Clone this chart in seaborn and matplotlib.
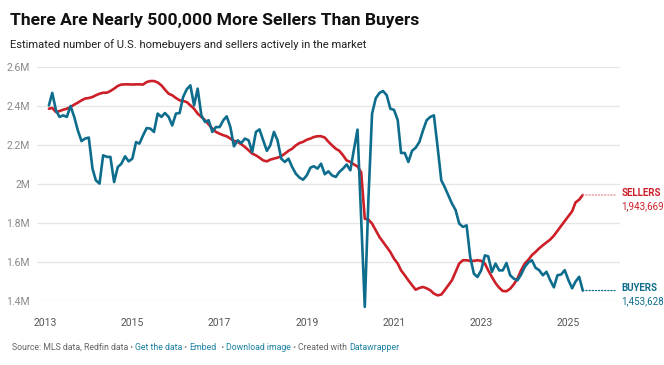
import matplotlib
matplotlib.use("Agg")
import matplotlib.pyplot as plt
import matplotlib.transforms as mtransforms
import numpy as np
import pandas as pd
import seaborn as sns

# ---------------- data (monthly, Feb 2013 - May 2025), millions ----------------
start_month = "2013-02-01"

buyers = [
    2.403, 2.467, 2.378, 2.344, 2.352, 2.344, 2.400, 2.344, 2.275, 2.220, 2.233,
    2.238, 2.079, 2.019, 2.002, 2.147, 2.139, 2.139, 2.010, 2.087, 2.104, 2.142,
    2.116, 2.130, 2.215, 2.207, 2.250, 2.287, 2.284, 2.267, 2.361, 2.344, 2.364,
    2.344, 2.300, 2.361, 2.364, 2.446, 2.486, 2.506, 2.403, 2.489, 2.352, 2.318,
    2.327, 2.267, 2.292, 2.292, 2.327, 2.347, 2.292, 2.193, 2.224, 2.210, 2.233,
    2.224, 2.164, 2.267, 2.280, 2.224, 2.170, 2.198, 2.267, 2.224, 2.130, 2.113,
    2.130, 2.087, 2.053, 2.033, 2.022, 2.044, 2.084, 2.091, 2.079, 2.104, 2.050,
    2.065, 2.044, 2.036, 2.062, 2.079, 2.100, 2.070, 2.180, 2.279, 1.820, 1.370,
    1.930, 2.360, 2.440, 2.467, 2.477, 2.455, 2.386, 2.380, 2.327, 2.159, 2.159,
    2.113, 2.170, 2.186, 2.215, 2.275, 2.327, 2.344, 2.352, 2.190, 2.019, 1.985,
    1.942, 1.900, 1.866, 1.797, 1.780, 1.788, 1.626, 1.540, 1.523, 1.557, 1.634,
    1.629, 1.549, 1.592, 1.557, 1.557, 1.595, 1.532, 1.515, 1.506, 1.535, 1.575,
    1.598, 1.609, 1.570, 1.558, 1.532, 1.550, 1.507, 1.470, 1.532, 1.536, 1.558,
    1.507, 1.465, 1.499, 1.524, 1.453628,
]

sellers = [
    2.386, 2.390, 2.369, 2.374, 2.381, 2.386, 2.395, 2.407, 2.417, 2.429, 2.438,
    2.441, 2.446, 2.455, 2.463, 2.468, 2.468, 2.477, 2.489, 2.503, 2.510, 2.511,
    2.511, 2.510, 2.511, 2.511, 2.510, 2.523, 2.528, 2.528, 2.521, 2.506, 2.484,
    2.463, 2.455, 2.441, 2.429, 2.426, 2.420, 2.403, 2.386, 2.361, 2.344, 2.327,
    2.306, 2.284, 2.267, 2.258, 2.250, 2.245, 2.233, 2.221, 2.216, 2.204, 2.190,
    2.173, 2.156, 2.147, 2.135, 2.121, 2.116, 2.125, 2.130, 2.135, 2.142, 2.156,
    2.170, 2.181, 2.198, 2.210, 2.216, 2.227, 2.233, 2.241, 2.245, 2.245, 2.238,
    2.217, 2.198, 2.181, 2.170, 2.147, 2.121, 2.113, 2.100, 2.090, 2.060, 1.822,
    1.817, 1.797, 1.763, 1.728, 1.703, 1.677, 1.651, 1.617, 1.592, 1.557, 1.532,
    1.506, 1.481, 1.458, 1.467, 1.472, 1.465, 1.455, 1.438, 1.429, 1.433, 1.455,
    1.481, 1.506, 1.549, 1.592, 1.609, 1.609, 1.606, 1.606, 1.609, 1.606, 1.592,
    1.557, 1.523, 1.492, 1.468, 1.451, 1.450, 1.463, 1.485, 1.515, 1.557, 1.592,
    1.612, 1.635, 1.652, 1.670, 1.686, 1.700, 1.715, 1.735, 1.760, 1.785, 1.810,
    1.835, 1.860, 1.905, 1.920, 1.943669,
]

y_ticks = [1.4, 1.6, 1.8, 2.0, 2.2, 2.4, 2.6]
y_tick_labels = ["1.4M", "1.6M", "1.8M", "2M", "2.2M", "2.4M", "2.6M"]
x_tick_years = [2013, 2015, 2017, 2019, 2021, 2023, 2025]

title = "There Are Nearly 500,000 More Sellers Than Buyers"
subtitle = "Estimated number of U.S. homebuyers and sellers actively in the market"
series_names = ["SELLERS", "BUYERS"]

RED = "#cc1f28"
BLUE = "#0e6d8c"
GRID = "#e6e6e6"
TICK = "#8a8a8a"

# ---------------- build frame ----------------
dates = pd.date_range(start_month, periods=len(buyers), freq="MS")
df = pd.DataFrame({
    "date": np.concatenate([dates, dates]),
    "value": np.concatenate([sellers, buyers]),
    "series": ["SELLERS"] * len(sellers) + ["BUYERS"] * len(buyers),
})

sns.set_theme(style="white")
plt.rcParams["font.family"] = ["Roboto", "DejaVu Sans"]

W, H = 664, 365
fig = plt.figure(figsize=(W / 100, H / 100), dpi=100)
ax_left, ax_right = 37, 620
ax_top, ax_bot = 67, 301
ax = fig.add_axes([ax_left / W, 1 - ax_bot / H, (ax_right - ax_left) / W, (ax_bot - ax_top) / H])

sns.lineplot(data=df, x="date", y="value", hue="series",
             palette={"SELLERS": RED, "BUYERS": BLUE}, linewidth=1.9,
             legend=False, ax=ax, zorder=3)
for ln in ax.get_lines():
    ln.set_clip_on(False)
    ln.set_solid_joinstyle("round")

# x range: 2013 tick at pixel 45.2, 43.6 px per year
px_per_year = 43.6
x0 = 2013 - (45.2 - ax_left) / px_per_year
x1 = 2013 + (ax_right - 45.2) / px_per_year

def yr2date(y):
    yi = int(np.floor(y))
    frac = y - yi
    d0 = pd.Timestamp(f"{yi}-01-01")
    d1 = pd.Timestamp(f"{yi + 1}-01-01")
    return d0 + (d1 - d0) * frac

ax.set_xlim(yr2date(x0), yr2date(x1))
ax.set_ylim(1.4, 2.6)

ax.set_yticks(y_ticks)
ax.set_yticklabels(y_tick_labels)
ax.set_xticks([pd.Timestamp(f"{y}-01-01") for y in x_tick_years])
ax.set_xticklabels([str(y) for y in x_tick_years])
ax.set_xlabel("")
ax.set_ylabel("")

for s in ax.spines.values():
    s.set_visible(False)
ax.spines["bottom"].set_position(("outward", 5))
ax.yaxis.grid(True, color=GRID, linewidth=1.0, zorder=0)
ax.xaxis.grid(False)
ax.tick_params(axis="y", length=0, pad=5, labelsize=7.5, labelcolor=TICK)
ax.tick_params(axis="x", length=4.5, width=0.9, color="#333333", pad=3,
               labelsize=7.5, labelcolor="#555555", direction="out")

# end labels
trans = mtransforms.blended_transform_factory(ax.transAxes, ax.transData)
ends = [("SELLERS", sellers[-1], RED, "#e58a90"),
        ("BUYERS", buyers[-1], BLUE, BLUE)]
for name, val, col, dotcol in ends:
    ax.annotate("", xy=(0.9915, val), xycoords=trans,
                xytext=(dates[-1], val), textcoords="data",
                arrowprops=dict(arrowstyle="-", linestyle=(0, (1, 1.5)),
                                color=dotcol, lw=0.9, shrinkA=0, shrinkB=0),
                annotation_clip=False)
    ax.annotate(name, xy=(1.002, val), xycoords=trans, xytext=(0, 1.5),
                textcoords="offset points", color=col, fontsize=7.0,
                fontweight="bold", ha="left", va="center", annotation_clip=False)
    ax.annotate(f"{int(round(val * 1e6)):,}", xy=(1.002, val), xycoords=trans,
                xytext=(0, -8), textcoords="offset points", color=col,
                fontsize=7.0, ha="left", va="center", annotation_clip=False)

# title, subtitle
fig.text(10 / W, 1 - 20 / H, title, fontsize=12.6, fontweight="bold",
         color="#111111", ha="left", va="center")
fig.text(10 / W, 1 - 45 / H, subtitle, fontsize=8.1, color="#222222",
         ha="left", va="center")

# footer with coloured parts
pieces = [("Source: MLS data, Redfin data", "#666666"), (" • ", "#888888"),
          ("Get the data", "#1d81a2"), (" • ", "#888888"),
          ("Embed", "#1d81a2"), ("  • ", "#888888"),
          ("Download image", "#1d81a2"), (" • ", "#888888"),
          ("Created with ", "#666666"), ("Datawrapper", "#1d81a2")]
fig.canvas.draw()
renderer = fig.canvas.get_renderer()
xpos = 11.5
for txt, col in pieces:
    t = fig.text(xpos / W, 1 - 347 / H, txt, fontsize=6.3, color=col,
                 ha="left", va="center")
    bb = t.get_window_extent(renderer=renderer)
    xpos += bb.width

fig.savefig("out.png", dpi=100)
